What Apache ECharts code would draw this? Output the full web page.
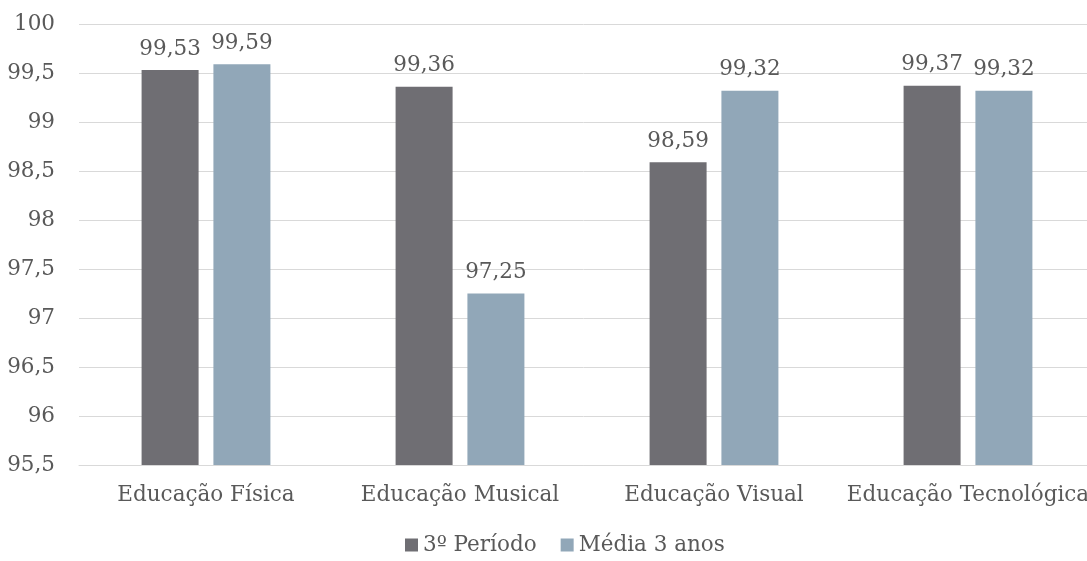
<!DOCTYPE html>
<html>
<head>
<meta charset="utf-8">
<script src="https://cdn.jsdelivr.net/npm/echarts@6/dist/echarts.min.js"></script>
<style>
  html, body { margin: 0; padding: 0; background: #fff; overflow: hidden; }
  #chart { width: 1087px; height: 561px; }
</style>
</head>
<body>
<div id="chart"></div>
<script>
// Disciplinas e taxas (%)
const categories = ['Educação Física', 'Educação Musical', 'Educação Visual', 'Educação Tecnológica'];
const periodo3 = [99.53, 99.36, 98.59, 99.37];
const media3anos = [99.59, 97.25, 99.32, 99.32];
const seriesNames = ['3º Período', 'Média 3 anos'];

const FONT = 'DejaVu Serif';
const FS = 21.5;
const TEXT = '#595959';
const fmt = v => String(v).replace('.', ',');

const chart = echarts.init(document.getElementById('chart'));
chart.setOption({
  animation: false,
  textStyle: { fontFamily: FONT },
  grid: { left: 79, width: 1016, top: 24, bottom: 96, containLabel: false, outerBoundsMode: 'none' },
  legend: {
    bottom: 0,
    left: 400,
    itemWidth: 13,
    itemHeight: 13,
    itemGap: 24,
    icon: 'rect',
    textStyle: { fontFamily: FONT, fontSize: FS, color: TEXT },
    data: seriesNames
  },
  xAxis: {
    type: 'category',
    data: categories,
    axisLine: { lineStyle: { color: '#d9d9d9', width: 1 } },
    axisTick: { show: false },
    axisLabel: { fontFamily: FONT, fontSize: FS, color: TEXT, margin: 19, interval: 0, hideOverlap: false }
  },
  yAxis: {
    type: 'value',
    min: 95.5,
    max: 100,
    interval: 0.5,
    axisLine: { show: false },
    axisTick: { show: false },
    splitLine: { lineStyle: { color: '#d9d9d9', width: 1 } },
    axisLabel: {
      fontFamily: FONT, fontSize: FS, color: TEXT, margin: 24,
      formatter: v => fmt(Math.round(v * 10) / 10)
    }
  },
  series: [
    {
      name: seriesNames[0],
      type: 'bar',
      data: periodo3,
      barWidth: 57,
      barGap: '26%',
      itemStyle: { color: '#6f6e73' },
      label: { show: true, position: 'top', distance: 10, fontFamily: FONT, fontSize: FS, color: TEXT, formatter: p => fmt(p.value) }
    },
    {
      name: seriesNames[1],
      type: 'bar',
      data: media3anos,
      barWidth: 57,
      itemStyle: { color: '#91a7b8' },
      label: { show: true, position: 'top', distance: 10, fontFamily: FONT, fontSize: FS, color: TEXT, formatter: p => fmt(p.value) }
    }
  ]
});
</script>
</body>
</html>
